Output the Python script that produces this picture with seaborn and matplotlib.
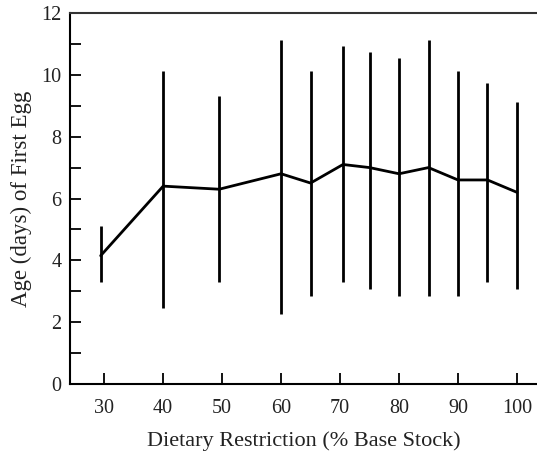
import matplotlib
matplotlib.use("Agg")
import matplotlib.pyplot as plt
import seaborn as sns
import pandas as pd

restriction = [29.4, 40, 49.5, 60, 65, 70.5, 75, 80, 85, 90, 95, 100]
mean_age = [4.15, 6.4, 6.3, 6.8, 6.5, 7.1, 7.0, 6.8, 7.0, 6.6, 6.6, 6.2]
upper_age = [5.1, 10.13, 9.3, 11.13, 10.13, 10.94, 10.74, 10.55, 11.13, 10.13, 9.74, 9.13]
lower_age = [3.3, 2.46, 3.3, 2.26, 2.85, 3.3, 3.07, 2.85, 2.85, 2.85, 3.3, 3.07]
x_ticks = [30, 40, 50, 60, 70, 80, 90, 100]
y_ticks = [0, 2, 4, 6, 8, 10, 12]

sns.set_style("ticks")
plt.rcParams['font.family'] = ['Liberation Serif', 'DejaVu Serif']

df = pd.DataFrame({"x": restriction, "y": mean_age})

fig = plt.figure(figsize=(5.37, 4.54), dpi=100)
ax = fig.add_axes([70/537, 70/454, 467/537, (384-13)/454])

ax.vlines(restriction, lower_age, upper_age, colors="black", linewidth=2.0)
sns.lineplot(data=df, x="x", y="y", ax=ax, color="black", linewidth=2.0,
             estimator=None, sort=False)

ax.set_xlim(24.2, 103.4)
ax.set_ylim(0, 12)
ax.set_xticks(x_ticks)
ax.set_yticks(y_ticks)
ax.set_yticks([1, 3, 5, 7, 9, 11], minor=True)
ax.tick_params(axis="both", which="both", direction="in", length=8, width=1.3,
               color="black", labelsize=14.5, labelcolor="#222222")
ax.tick_params(axis="x", pad=11)
ax.tick_params(axis="y", pad=6)

for side in ["left", "bottom", "top"]:
    ax.spines[side].set_color("black")
    ax.spines[side].set_linewidth(1.5)
ax.spines["right"].set_visible(False)
ax.spines["top"].set_color("#333333")

ax.set_xlabel("Dietary Restriction (% Base Stock)", fontsize=16, color="#222222", labelpad=9)
ax.set_ylabel("Age (days) of First Egg", fontsize=16.5, color="#222222", labelpad=7)

fig.savefig("out.png", dpi=100)
